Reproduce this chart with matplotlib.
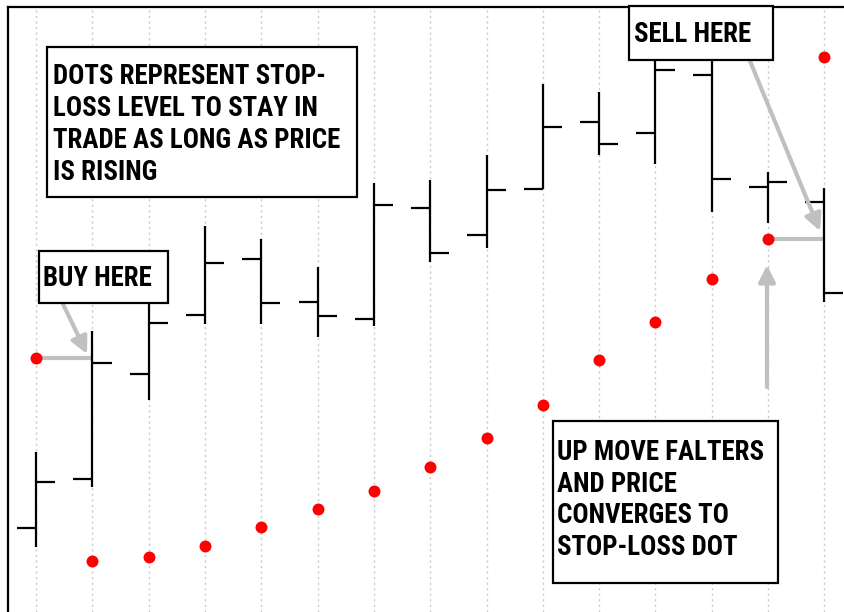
import matplotlib
matplotlib.use("Agg")
import matplotlib.pyplot as plt
from matplotlib.patches import Rectangle, FancyArrowPatch

W, H = 845, 612

# OHLC bars (price units)
bar_high  = [16.0, 28.1, 30.9, 38.6, 37.3, 34.5, 42.9, 43.2, 45.7, 52.8, 52.0, 56.7, 56.2, 44.0, 42.4]
bar_low   = [6.5, 12.5, 21.2, 28.8, 28.8, 27.5, 28.6, 35.0, 36.4, 42.3, 45.7, 44.8, 40.0, 38.9, 31.0]
bar_open  = [8.4, 13.3, 23.8, 29.7, 35.3, 31.0, 29.3, 40.4, 37.7, 42.3, 49.0, 47.9, 53.7, 42.5, 41.0]
bar_close = [13.0, 24.9, 28.9, 34.9, 30.9, 29.6, 40.7, 35.9, 42.2, 48.5, 46.8, 54.2, 43.3, 43.0, 31.9]
# Stop-loss dots
sar = [25.4, 5.1, 5.5, 6.6, 8.5, 10.3, 12.1, 14.5, 17.4, 20.7, 25.2, 29.0, 33.3, 37.3, 55.5]

box1_lines = ["DOTS REPRESENT STOP-", "LOSS LEVEL TO STAY IN", "TRADE AS LONG AS PRICE", "IS RISING"]
box2_lines = ["BUY HERE"]
box3_lines = ["SELL HERE"]
box4_lines = ["UP MOVE FALTERS", "AND PRICE", "CONVERGES TO", "STOP-LOSS DOT"]

FONT = ["Roboto Condensed", "DejaVu Sans"]

fig = plt.figure(figsize=(W / 100, H / 100), dpi=100)
ax = fig.add_axes([8 / W, 0, (W - 8) / W, (H - 7) / H])
x_step = 56.3
ax.set_xlim(-0.5, -0.5 + (W - 8) / x_step)
ax.set_ylim(0, (H - 7) / 10)
for s in ["right", "bottom"]:
    ax.spines[s].set_visible(False)
for s in ["left", "top"]:
    ax.spines[s].set_linewidth(1.6)
ax.set_xticks([])
ax.set_yticks([])

n = len(bar_high)
xs = list(range(n))
for x in xs:
    ax.axvline(x, color="#c8c8c8", lw=1.0, ls=(0, (1.5, 2.5)), zorder=0)

tick = 0.34
for x, h, l, o, c in zip(xs, bar_high, bar_low, bar_open, bar_close):
    ax.plot([x, x], [l, h], color="black", lw=1.6, solid_capstyle="butt", zorder=3)
    ax.plot([x - tick, x], [o, o], color="black", lw=1.6, solid_capstyle="butt", zorder=3)
    ax.plot([x, x + tick], [c, c], color="black", lw=1.6, solid_capstyle="butt", zorder=3)

ax.plot(xs, sar, "o", color="#ff0000", ms=8.6, mec="none", zorder=4)


def px(x, y):
    return x / W, 1 - y / H


gray = "#c0c0c0"
# horizontal connectors
ax.plot([xs[0], xs[1]], [sar[0], sar[0]], color=gray, lw=3, solid_capstyle="butt", zorder=2)
ax.plot([xs[13], xs[14]], [sar[13], sar[13]], color=gray, lw=3, solid_capstyle="butt", zorder=2)


def arrow(p0, p1):
    a = FancyArrowPatch(px(*p0), px(*p1), transform=fig.transFigure,
                        arrowstyle="-|>,head_length=10,head_width=5", mutation_scale=1,
                        color=gray, lw=3, shrinkA=0, shrinkB=0, zorder=5)
    fig.patches.append(a)


arrow((63, 304), (87, 354))
arrow((750, 61), (820, 231))
arrow((767, 387), (767, 265))


def box(x0, y0, x1, y1, lines, tx, base0, step=31.7):
    r = Rectangle(px(x0, y1), (x1 - x0) / W, (y1 - y0) / H, transform=fig.transFigure,
                  facecolor="white", edgecolor="black", lw=1.6, zorder=6)
    fig.patches.append(r)
    for i, t in enumerate(lines):
        fig.text(*px(tx, base0 + i * step), t, ha="left", va="baseline",
                 fontsize=19.4, family=FONT, fontweight="bold", fontstretch="condensed", zorder=7)


box(47, 47, 357, 197, box1_lines, 53, 84.5)
box(39, 251, 168, 303, box2_lines, 43, 286)
box(629, 6, 773, 60, box3_lines, 634, 42.5)
box(553, 421, 778, 583, box4_lines, 557, 460)

fig.savefig("out.png", dpi=100)
